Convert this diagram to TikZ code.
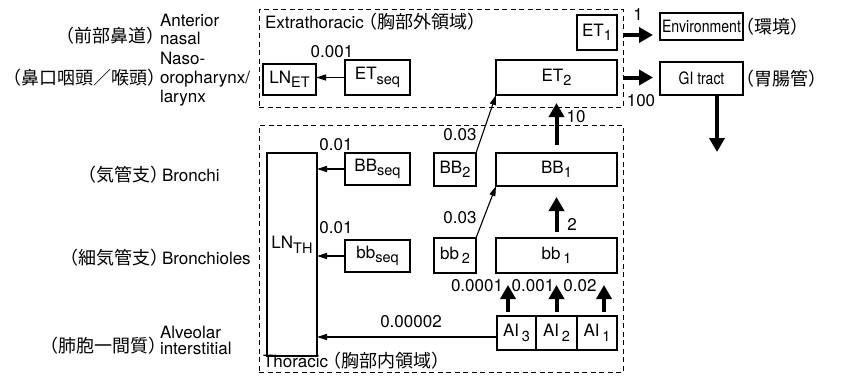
\documentclass[tikz,border=0pt]{standalone}
\usepackage{fontspec}
\usepackage{graphicx}
\setmainfont{TeX Gyre Heros}
\newfontfamily\jpfont{Noto Sans CJK JP}
\usetikzlibrary{arrows.meta}
\newcommand{\J}[1]{{\jpfont\fontsize{18}{18}\selectfont #1}}
\newcommand{\JP}[1]{{\jpfont\fontsize{18}{18}\selectfont\makebox[9pt][r]{（}#1\makebox[9pt][l]{）}}}
\newcommand{\lsb}[1]{\raisebox{-0.5ex}{\fontsize{14.5}{14.5}\selectfont #1}}
\newcommand{\narrowtext}[2]{\scalebox{#1}[1]{#2}}
\begin{document}
\begin{tikzpicture}[x=1pt,y=-1pt,
  every node/.style={font=\fontsize{17}{19}\selectfont, inner sep=0pt, outer sep=0pt},
  box/.style={draw, line width=1.1pt, anchor=center},
  region/.style={draw, dash pattern=on 5pt off 3.5pt, line width=1pt, anchor=center},
  thinarrow/.style={line width=1.1pt, -{Triangle[length=10pt,width=6pt]}},
  fatarrow/.style={line width=4pt, -{Triangle[length=14pt,width=15pt]}}]
\useasboundingbox (0,0) rectangle (850,375);

% regions
\node[region, minimum width=364pt, minimum height=98pt] (extra) at (441,58) {};
\node[region, minimum width=364pt, minimum height=247pt] (thor) at (441,248.5) {};
\node[anchor=base west] (extitle) at (265,28) {Extrathoracic \JP{胸部外領域}};
\node[anchor=base west] (thtitle) at (263,367) {Thoracic \JP{胸部内領域}};

% extrathoracic boxes
\node[box, minimum width=53pt, minimum height=31pt] (LNET) at (289.5,79.5) {LN\lsb{ET}};
\node[box, minimum width=65pt, minimum height=35pt] (ETseq) at (377.5,77.5) {ET\lsb{seq}};
\node[box, minimum width=40pt, minimum height=35pt] (ET1) at (597,32.5) {ET\lsb{1}};
\node[box, minimum width=121pt, minimum height=35pt] (ET2) at (556.5,77.5) {ET\lsb{2}};
\node[box, minimum width=83pt, minimum height=27pt] (Env) at (701.5,26.5) {\narrowtext{0.83}{Environment}};
\node[box, minimum width=83pt, minimum height=33pt] (GI) at (701.5,78.5) {\narrowtext{0.82}{GI tract}};
\node[anchor=base west] (envj) at (745,33) {\JP{環境}};
\node[anchor=base west] (gij) at (745,85) {\JP{胃腸管}};

% thoracic boxes
\node[box, minimum width=50pt, minimum height=203pt] (LNTH) at (292,254.5) {};
\node (lnthlab) at (292,245) {LN\lsb{TH}};
\node[box, minimum width=65pt, minimum height=32pt] (BBseq) at (377.5,169) {BB\lsb{seq}};
\node[box, minimum width=65pt, minimum height=32pt] (bbseq) at (377.5,256) {bb\lsb{seq}};
\node[box, minimum width=42pt, minimum height=33pt] (BB2) at (455,169.5) {BB\lsb{2}};
\node[box, minimum width=121pt, minimum height=33pt] (BB1) at (556.5,169.5) {BB\lsb{1}};
\node[box, minimum width=42pt, minimum height=35pt] (bb2) at (455,255.5) {bb\,\lsb{2}};
\node[box, minimum width=121pt, minimum height=35pt] (bb1) at (556.5,255.5) {bb\,\lsb{1}};
\node[box, minimum width=39pt, minimum height=34pt] (AI3) at (516.5,333) {AI\,\lsb{3}};
\node[box, minimum width=41pt, minimum height=34pt] (AI2) at (556.5,333) {AI\,\lsb{2}};
\node[box, minimum width=40pt, minimum height=34pt] (AI1) at (597,333) {AI\,\lsb{1}};

% left labels
\node[anchor=base east] (l1j) at (155,42) {\JP{前部鼻道}};
\node[anchor=base west] (l1a) at (160,26) {Anterior};
\node[anchor=base west] (l1b) at (160,44) {nasal};
\node[anchor=base east] (l2j) at (156,84) {\JP{鼻口咽頭／喉頭}};
\node[anchor=west, align=left, font=\fontsize{17}{19}\selectfont] (l2) at (160,79.6) {Naso-\\oropharynx/\\larynx};
\node[anchor=base east] (l3j) at (159,181) {\JP{気管支}};
\node[anchor=base west] (l3) at (162,181) {Bronchi};
\node[anchor=base east] (l4j) at (159,264) {\JP{細気管支}};
\node[anchor=base west] (l4) at (162,264) {Bronchioles};
\node[anchor=base east] (l5j) at (157,352) {\JP{肺胞一間質}};
\node[anchor=west, align=left, font=\fontsize{17}{15.5}\selectfont] (l5) at (160,340.5) {Alveolar\\interstitial};

% thin arrows
\draw[thinarrow] (ETseq.west) -- (ETseq.west -| LNET.east);
\draw[thinarrow] (BBseq.west) -- (BBseq.west -| LNTH.east);
\draw[thinarrow] (bbseq.west) -- (bbseq.west -| LNTH.east);
\draw[thinarrow] ([yshift=-4pt]AI3.west) -- ([yshift=-4pt]AI3.west -| LNTH.east);
\draw[thinarrow] (BB2.north east) -- (ET2.south west);
\draw[thinarrow] (bb2.north east) -- (BB1.south west);

% fat arrows
\draw[fatarrow, shorten <=8pt, shorten >=8pt] (BB1.north) -- (ET2.south);
\draw[fatarrow, shorten <=6pt, shorten >=11pt] (bb1.north) -- (BB1.south);
\draw[fatarrow, shorten <=4pt, shorten >=12pt] ([xshift=-8.5pt]AI3.north) -- ([xshift=-8.5pt]AI3.north |- bb1.south);
\draw[fatarrow, shorten <=4pt, shorten >=12pt] (AI2.north) -- (AI2.north |- bb1.south);
\draw[fatarrow, shorten <=4pt, shorten >=12pt] ([xshift=7pt]AI1.north) -- ([xshift=7pt]AI1.north |- bb1.south);
\draw[fatarrow, shorten >=7pt] ([yshift=-2.5pt]ET1.east -| extra.east) -- ([yshift=-2.5pt]ET1.east -| Env.west);
\draw[fatarrow, shorten >=7pt] (ET2.east -| extra.east) -- (ET2.east -| GI.west);
\coordinate (gidown) at (717,152);
\draw[fatarrow] (GI.south -| gidown) -- (gidown);

% rate labels
\node (r1) at (638,14) {1};
\node (r100) at (641,101) {100};
\node (r10) at (576,117) {10};
\node (r2) at (572,224) {2};
\node (r003a) at (460,135) {0.03};
\node (r003b) at (460,218) {0.03};
\node (r001a) at (336,145) {0.01};
\node (r001b) at (336,228) {0.01};
\node (r0001) at (332,52) {0.001};
\node (r00002) at (411,322) {0.00002};
\node (rai3) at (477,286) {0.0001};
\node (rai2) at (533,286) {0.001};
\node (rai1) at (580,286) {0.02};
\end{tikzpicture}
\end{document}
